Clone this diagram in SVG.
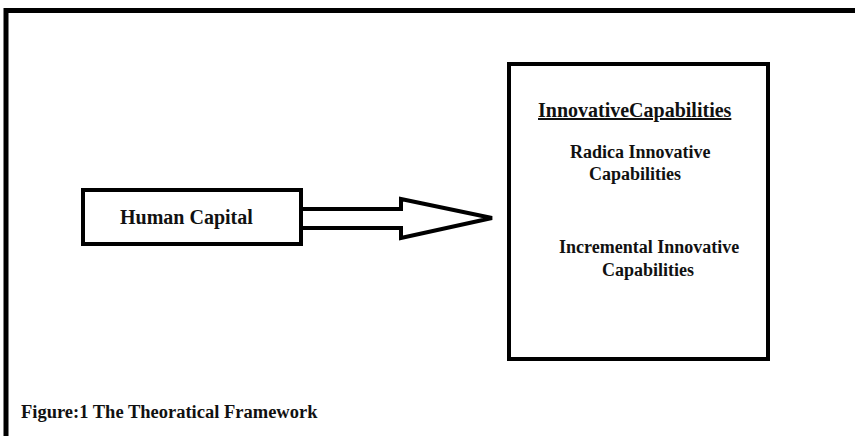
<svg xmlns="http://www.w3.org/2000/svg" width="855" height="436" viewBox="0 0 855 436">
  <style>
    .box { fill: #ffffff; stroke: #000000; stroke-width: 4; }
    .frame { fill: none; stroke: #000000; stroke-width: 5; }
    .arrow { fill: #ffffff; stroke: #000000; stroke-width: 4; stroke-linejoin: miter; }
    text { font-family: "Liberation Serif", "Times New Roman", serif; font-weight: bold; fill: #111111; }
    .t20 { font-size: 20px; }
    .t18 { font-size: 18px; }
    .cap { font-size: 18.5px; }
  </style>
  <rect width="855" height="436" fill="#ffffff"/>
  <!-- outer frame: top and left edges only -->
  <path class="frame" d="M6,436 V10.5 H860"/>

  <g id="human-capital">
    <rect class="box" x="83" y="190" width="218" height="54"/>
    <text class="t20" x="120" y="224">Human Capital</text>
  </g>

  <g id="innovative-capabilities">
    <rect class="box" x="509" y="64" width="259" height="295"/>
    <text class="t20" x="538" y="117" text-decoration="underline">InnovativeCapabilities</text>
    <text class="t18" x="570" y="158">Radica Innovative</text>
    <text class="t18" x="589" y="180">Capabilities</text>
    <text class="t18" x="559" y="253">Incremental Innovative</text>
    <text class="t18" x="602" y="276">Capabilities</text>
  </g>

  <g id="connectors">
    <polygon class="arrow" points="301,209 401,209 401,199 492,218 401,238 401,228 301,228"/>
  </g>

  <g id="caption">
    <text class="cap" x="21" y="418">Figure:1 The Theoratical Framework</text>
  </g>
</svg>
